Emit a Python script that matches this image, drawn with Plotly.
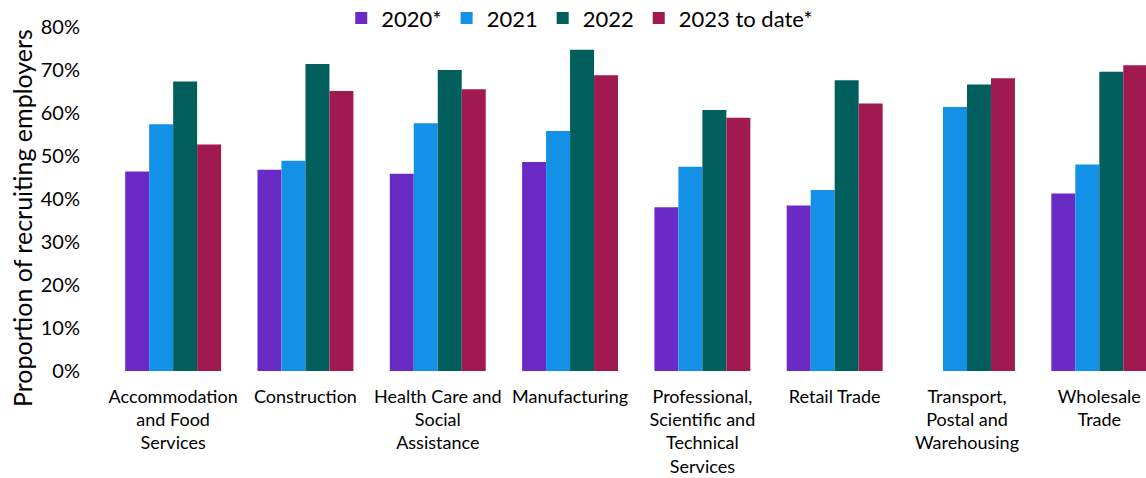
import plotly.graph_objects as go

# Industry categories (line breaks as shown on the axis)
categories = [
    "Accommodation<br>and Food<br>Services",
    "Construction",
    "Health Care and<br>Social<br>Assistance",
    "Manufacturing",
    "Professional,<br>Scientific and<br>Technical<br>Services",
    "Retail Trade",
    "Transport,<br>Postal and<br>Warehousing",
    "Wholesale<br>Trade",
]

# Proportion of recruiting employers by year
y2020 = [0.464, 0.468, 0.459, 0.486, 0.381, 0.385, None, 0.413]
y2021 = [0.574, 0.489, 0.576, 0.558, 0.475, 0.421, 0.614, 0.480]
y2022 = [0.673, 0.714, 0.700, 0.747, 0.607, 0.676, 0.666, 0.696]
y2023 = [0.527, 0.651, 0.655, 0.688, 0.589, 0.622, 0.681, 0.711]

series = [
    ("2020*", y2020, "#6A2AC5"),
    ("2021", y2021, "#1391E7"),
    ("2022", y2022, "#005F5C"),
    ("2023 to date*", y2023, "#A0194F"),
]

FONT = "Lato"

fig = go.Figure()
for name, vals, color in series:
    fig.add_trace(go.Bar(
        name=name,
        x=list(range(len(categories))),
        y=vals,
        marker=dict(color=color, line=dict(width=0)),
    ))

fig.update_layout(
    width=1146,
    height=478,
    margin=dict(l=107, r=0, t=27, b=107, pad=0, autoexpand=False),
    paper_bgcolor="white",
    plot_bgcolor="white",
    barmode="group",
    bargap=0.275,
    bargroupgap=0,
    font=dict(family=FONT, color="#000000"),
    showlegend=True,
    legend=dict(
        orientation="h",
        x=0.455, xanchor="center",
        y=0.962, yanchor="middle",
        yref="container",
        font=dict(size=22, family=FONT),
        itemwidth=30,
        traceorder="normal",
        bgcolor="rgba(0,0,0,0)",
    ),
    xaxis=dict(
        range=[-0.5, 7.353],
        tickmode="array",
        tickvals=list(range(len(categories))),
        ticktext=categories,
        tickfont=dict(size=18, family=FONT),
        showgrid=False,
        showline=False,
        zeroline=False,
        ticks="outside",
        ticklen=9,
        tickcolor="rgba(0,0,0,0)",
    ),
    yaxis=dict(
        range=[0, 0.8],
        tickvals=[0, 0.1, 0.2, 0.3, 0.4, 0.5, 0.6, 0.7, 0.8],
        tickformat=".0%",
        tickfont=dict(size=20, family=FONT),
        showgrid=False,
        zeroline=False,
        showline=False,
        ticks="outside",
        ticklen=22,
        tickcolor="rgba(0,0,0,0)",
    ),
)

# Vertical axis title, placed in pixel terms left of the tick labels
fig.add_annotation(
    text="Proportion of recruiting employers",
    xref="paper", yref="paper",
    x=-(107 - 22) / 1039, y=(371 - 218) / 344,
    xanchor="center", yanchor="middle",
    textangle=-90,
    showarrow=False,
    font=dict(size=25, family=FONT, color="#000000"),
)

fig.write_html("out.html")
